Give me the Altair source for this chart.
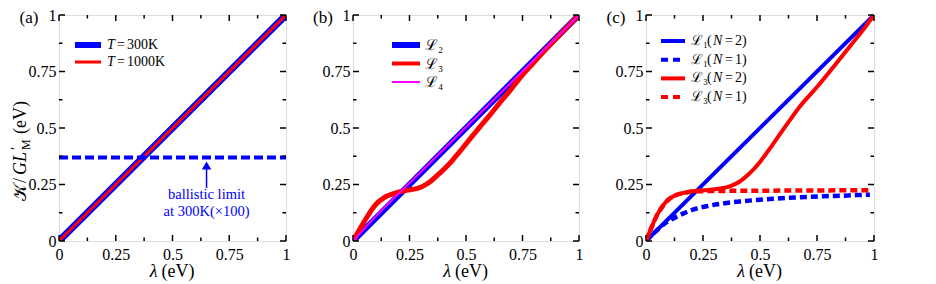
import altair as alt
import pandas as pd

# ---------------- data ----------------
major_ticks = [0, 0.25, 0.5, 0.75, 1]
minor_ticks = [0.125, 0.375, 0.625, 0.875]

# panel (a)
a_lam = [0, 1]
a_T300 = [0, 1]
a_T1000 = [0, 1]
a_ball_lam = [0, 1]
a_ball_K = [0.37, 0.37]
a_arrow_lam = [0.65, 0.65]
a_arrow_K = [0.235, 0.325]
a_head_lam = [0.65]
a_head_K = [0.334]
a_note_lam = [0.65, 0.65]
a_note_K = [0.205, 0.128]
a_note_txt = ["ballistic limit", "at 300K(\u00d7100)"]

# panel (b)
b_L2_lam = [0, 1]
b_L2_K = [0, 1]
b_L3_lam = [0, 0.02, 0.04, 0.067, 0.09, 0.111, 0.135, 0.156, 0.19, 0.222, 0.26, 0.289,
            0.32, 0.348, 0.38, 0.407, 0.44, 0.467, 0.5, 0.526, 0.56, 0.6, 0.65, 0.7,
            0.75, 0.8, 0.85, 0.9, 0.95, 1.0]
b_L3_K = [0, 0.035, 0.07, 0.114, 0.148, 0.172, 0.19, 0.201, 0.213, 0.221, 0.228, 0.234,
          0.248, 0.268, 0.297, 0.322, 0.357, 0.389, 0.43, 0.462, 0.503, 0.55, 0.612, 0.672,
          0.735, 0.79, 0.845, 0.897, 0.949, 1.0]
b_L4_lam = [0, 0.1, 0.3, 0.5, 0.75, 1]
b_L4_K = [0, 0.108, 0.305, 0.503, 0.751, 1]

# panel (c)
c_L1N2_lam = [0, 1]
c_L1N2_K = [0, 1]
c_L1N1_lam = [0, 0.04, 0.08, 0.12, 0.16, 0.2, 0.266, 0.33, 0.412, 0.48, 0.558, 0.63,
              0.705, 0.78, 0.851, 0.92, 0.982]
c_L1N1_K = [0, 0.04, 0.076, 0.1, 0.12, 0.137, 0.154, 0.165, 0.175, 0.181, 0.187,
            0.191, 0.195, 0.198, 0.2, 0.203, 0.205]
c_L3N2_lam = [0, 0.02, 0.047, 0.07, 0.09, 0.115, 0.14, 0.18, 0.222, 0.27, 0.325, 0.37,
              0.41, 0.45, 0.5, 0.558, 0.617, 0.675, 0.749, 0.822, 0.909, 0.96, 1.0]
c_L3N2_K = [0, 0.05, 0.112, 0.15, 0.175, 0.195, 0.206, 0.216, 0.222, 0.226, 0.232, 0.243,
            0.262, 0.295, 0.35, 0.43, 0.515, 0.595, 0.68, 0.77, 0.88, 0.945, 1.0]
c_L3N1_lam = [0, 0.02, 0.047, 0.07, 0.09, 0.115, 0.14, 0.18, 0.222, 0.3, 0.4, 0.5, 0.6,
              0.7, 0.8, 0.9, 0.982]
c_L3N1_K = [0, 0.05, 0.112, 0.15, 0.175, 0.195, 0.206, 0.215, 0.22, 0.221, 0.222, 0.222,
            0.223, 0.223, 0.224, 0.225, 0.225]

# ---------------- styling ----------------
FONT = "Liberation Serif"
BLUE, RED, MAG = "#0000ff", "#ff0000", "#ff00ff"
H = 226
xsc = alt.Scale(domain=[0, 1], nice=False, zero=False)
ysc = alt.Scale(domain=[0, 1], nice=False, zero=False)

ax_x = alt.Axis(values=major_ticks, format=".2~f", ticks=False, domain=False, grid=False,
                labelPadding=5, title=None, labelFontSize=16, labelFont=FONT,
                labelColor="black", labelFlush=False, labelOverlap=False)
ax_y = alt.Axis(values=major_ticks, format=".2~f", ticks=False, domain=False, grid=False,
                labelPadding=3, title=None, labelFontSize=16, labelFont=FONT,
                labelColor="black", labelFlush=False, labelOverlap=False)

X = lambda f: alt.X(f, scale=xsc, axis=ax_x)
Y = lambda f: alt.Y(f, scale=ysc, axis=ax_y)


def series(lam, K, color, width, dash=None):
    df = pd.DataFrame({"lam": lam, "K": K})
    kw = dict(color=color, strokeWidth=width, clip=True, interpolate="monotone")
    if dash:
        kw["strokeDash"] = dash
    return alt.Chart(df).mark_line(**kw).encode(x=X("lam:Q"), y=Y("K:Q"))


def ticks(W):
    layers = []
    for vals, ln in ((major_ticks, 6), (minor_ticks, 3.5)):
        df = pd.DataFrame({"v": vals})
        base = alt.Chart(df).mark_rule(color="black", strokeWidth=1.5)
        layers += [
            base.encode(y=Y("v:Q"), x=alt.value(0), x2=alt.value(ln)),
            base.encode(y=Y("v:Q"), x=alt.value(W), x2=alt.value(W - ln)),
            base.encode(x=X("v:Q"), y=alt.value(H), y2=alt.value(H - ln)),
            base.encode(x=X("v:Q"), y=alt.value(0), y2=alt.value(ln)),
        ]
    return layers


def txt(s, x, y, size=14, color="black", italic=False, align="left", baseline="middle", angle=0):
    kw = dict(text=s, font=FONT, fontSize=size, color=color, align=align, baseline=baseline)
    if italic:
        kw["fontStyle"] = "italic"
    if angle:
        kw["angle"] = angle
    return alt.Chart().mark_text(**kw).encode(x=alt.value(x), y=alt.value(y))


def leg_line(x0, x1, y, color, width, dash=None):
    kw = dict(color=color, strokeWidth=width)
    if dash:
        kw["strokeDash"] = dash
    return alt.Chart().mark_rule(**kw).encode(x=alt.value(x0), x2=alt.value(x1), y=alt.value(y))


def xtitle(W):
    cx = W / 2
    return [txt("\u03bb", cx - 15, H + 36, size=18, italic=True, align="right", baseline="alphabetic"),
            txt("(eV)", cx - 11, H + 36, size=18, baseline="alphabetic")]


def panel_label(s):
    return txt(s, -30, 8, size=17, align="center", baseline="alphabetic")


# ---------------- panel (a) ----------------
WA = 227
a_layers = [
    series(a_lam, a_T300, BLUE, 7),
    series(a_lam, a_T1000, RED, 3),
    series(a_ball_lam, a_ball_K, BLUE, 4, dash=[9, 4]),
    alt.Chart(pd.DataFrame({"lam": a_arrow_lam, "K": a_arrow_K})).mark_line(
        color=BLUE, strokeWidth=1.5).encode(x=X("lam:Q"), y=Y("K:Q")),
    alt.Chart(pd.DataFrame({"lam": a_head_lam, "K": a_head_K})).mark_point(
        shape="triangle-up", filled=True, color=BLUE, size=90, opacity=1).encode(
        x=X("lam:Q"), y=Y("K:Q")),
    alt.Chart(pd.DataFrame({"lam": a_note_lam, "K": a_note_K, "t": a_note_txt})).mark_text(
        font=FONT, fontSize=14.5, color=BLUE).encode(x=X("lam:Q"), y=Y("K:Q"), text="t:N"),
    leg_line(16, 42, 30, BLUE, 6),
    leg_line(16, 42, 47, RED, 3),
    panel_label("(a)"),
]
for yy, tv in ((30, "300K"), (47, "1000K")):
    a_layers += [txt("T", 52, yy, italic=True, align="center"),
                 txt("=", 58, yy),
                 txt(tv, 68, yy)]
a_layers += xtitle(WA) + ticks(WA)

# y title pieces (rotated, read bottom to top)
YX = -38
a_layers += [
    txt("\U0001D4A6", YX, 186, size=18, align="left", angle=270),
    txt("/", YX, 168, size=18, align="left", angle=270),
    txt("GL", YX, 160, size=18, italic=True, align="left", angle=270),
    txt("\u2032", YX - 5, 135, size=15, align="left", angle=270),
    txt("M", YX + 5, 135, size=12, align="left", angle=270),
    txt("(eV)", YX, 119, size=18, align="left", angle=270),
]
pa = alt.layer(*a_layers).properties(width=WA, height=H)

# ---------------- panel (b) ----------------
WB = 226
b_layers = [
    series(b_L2_lam, b_L2_K, BLUE, 6),
    series(b_L3_lam, b_L3_K, RED, 5),
    series(b_L4_lam, b_L4_K, MAG, 2),
    leg_line(39, 67, 30, BLUE, 6),
    leg_line(39, 67, 48.5, RED, 4),
    leg_line(39, 67, 67, MAG, 2),
    txt("\u2112\u2082", 72, 30, size=15),
    txt("\u2112\u2083", 72, 48.5, size=15),
    txt("\u2112\u2084", 72, 67, size=15),
    panel_label("(b)"),
] + xtitle(WB) + ticks(WB)
pb = alt.layer(*b_layers).properties(width=WB, height=H)

# ---------------- panel (c) ----------------
WC = 228
c_layers = [
    series(c_L1N2_lam, c_L1N2_K, BLUE, 4),
    series(c_L1N1_lam, c_L1N1_K, BLUE, 4.5, dash=[7, 4]),
    series(c_L3N2_lam, c_L3N2_K, RED, 4),
    series(c_L3N1_lam, c_L3N1_K, RED, 4.5, dash=[7, 4]),
    panel_label("(c)"),
]
leg_c = [("\u2112\u2081", "2", BLUE, None), ("\u2112\u2081", "1", BLUE, [7, 5]),
         ("\u2112\u2083", "2", RED, None), ("\u2112\u2083", "1", RED, [7, 5])]
for i, (lab, n, col, dash) in enumerate(leg_c):
    yy = 26 + i * 18.7
    c_layers += [
        leg_line(15, 39, yy, col, 4, dash),
        txt(lab, 45, yy, size=14),
        txt("(", 61, yy, size=14),
        txt("N", 67, yy, size=14, italic=True),
        txt("=", 79, yy, size=14),
        txt(n + ")", 89, yy, size=14),
    ]
c_layers += xtitle(WC) + ticks(WC)
pc = alt.layer(*c_layers).properties(width=WC, height=H)

chart = alt.hconcat(pa, pb, pc, spacing=67, bounds="flush").properties(
    padding={"left": 0, "top": -2, "right": 0, "bottom": 0}).configure_view(
    stroke="black", strokeWidth=2).configure(background="white")

chart.save("out.html", embed_options={"renderer": "svg", "actions": False})
